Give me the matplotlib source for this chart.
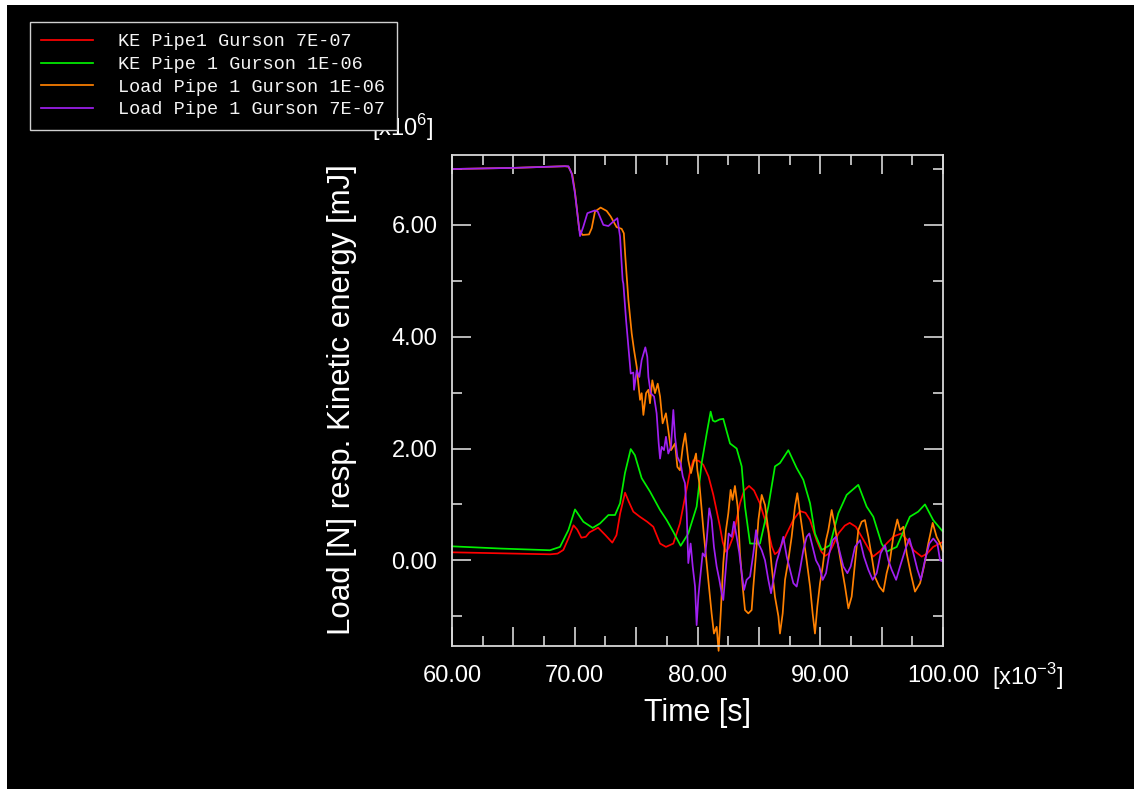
import matplotlib
matplotlib.use("Agg")
import matplotlib.pyplot as plt
from matplotlib.ticker import MultipleLocator, FuncFormatter
from matplotlib.patches import Rectangle
from matplotlib.font_manager import FontProperties

# ---------------- data (time in ms, values in 1e6) ----------------
red_t = [60, 64, 68.0, 68.6, 69.07, 69.5, 69.9, 70.2, 70.54, 70.9, 71.2, 71.9, 72.5, 73.06, 73.4, 73.7,
         74.1, 74.4, 74.77, 75.3, 75.9, 76.4, 76.95, 77.43, 78.03, 78.57, 79.1, 79.4, 79.66, 80.1, 80.47,
         80.9, 81.29, 81.83, 82.05, 82.3, 82.55, 82.9, 83.46, 83.8, 84.2, 84.6, 85.08, 85.76, 86.05, 86.3,
         86.55, 86.8, 87.27, 87.8, 88.35, 88.8, 89.17, 89.7, 90.1, 90.4, 90.7, 91.0, 91.48, 92.0, 92.4,
         92.9, 93.38, 94.3, 94.9, 95.4, 96.0, 96.6, 97.1, 97.6, 98.26, 98.7, 99.2, 100.0]
red_v = [0.143, 0.125, 0.107, 0.12, 0.185, 0.40, 0.626, 0.55, 0.405, 0.42, 0.50, 0.584, 0.45, 0.316, 0.45, 0.84,
         1.21, 1.05, 0.87, 0.78, 0.69, 0.60, 0.30, 0.24, 0.30, 0.66, 1.26, 1.60, 1.79, 1.78, 1.71,
         1.50, 1.17, 0.60, 0.33, 0.155, 0.22, 0.42, 1.02, 1.25, 1.33, 1.25, 1.02, 0.54, 0.25, 0.11,
         0.15, 0.25, 0.48, 0.72, 0.88, 0.85, 0.72, 0.36, 0.15, 0.08, 0.12, 0.25, 0.48, 0.62, 0.67,
         0.60, 0.42, 0.066, 0.17, 0.30, 0.43, 0.48, 0.36, 0.18, 0.066, 0.12, 0.24, 0.33]

green_t = [60, 64, 67.98, 68.8, 69.48, 70.02, 70.7, 71.46, 72.06, 72.74, 73.28, 73.69, 74.09, 74.56,
           74.9, 75.45, 76.13, 76.95, 77.49, 78.03, 78.63, 79.25, 79.93, 80.34, 80.75, 81.07, 81.25,
           81.43, 81.8, 82.1, 82.65, 83.19, 83.6, 83.87, 84.28, 85.09, 85.77, 86.31, 86.72, 87.4,
           88.08, 88.62, 89.17, 89.57, 90.12, 90.79, 91.47, 92.15, 93.1, 93.78, 94.32, 95.0, 95.41,
           96.23, 97.3, 97.98, 98.53, 99.2, 100.0]
green_v = [0.25, 0.21, 0.18, 0.24, 0.54, 0.91, 0.69, 0.58, 0.66, 0.81, 0.81, 1.02, 1.56, 1.99,
           1.88, 1.47, 1.23, 0.90, 0.72, 0.51, 0.26, 0.48, 0.96, 1.74, 2.27, 2.66, 2.50,
           2.48, 2.52, 2.53, 2.09, 2.00, 1.68, 0.96, 0.30, 0.30, 0.96, 1.68, 1.74, 1.97,
           1.65, 1.44, 1.02, 0.48, 0.185, 0.27, 0.84, 1.17, 1.35, 0.96, 0.78, 0.30, 0.155,
           0.24, 0.78, 0.87, 1.00, 0.72, 0.51]

orange_t = [60.0, 65.0, 69.2, 69.5, 69.8, 70.0, 70.37, 70.64, 71.16, 71.38, 71.65, 72.11, 72.6, 72.93,
            73.41, 73.82, 74.0, 74.12, 74.37, 74.64, 74.83, 75.05, 75.18, 75.32, 75.45, 75.59, 75.81,
            76.0, 76.13, 76.32, 76.54, 76.76, 76.95, 77.16, 77.43, 77.62, 77.84, 78.17, 78.36, 78.57,
            78.8, 79.0, 79.25, 79.47, 79.66, 79.88, 79.99, 80.15, 80.27, 80.5, 80.88, 81.15, 81.34,
            81.56, 81.72, 81.89, 82.1, 82.32, 82.51, 82.7, 82.86, 83.05, 83.27, 83.46, 83.68, 83.87,
            84.14, 84.41, 84.55, 84.77, 84.96, 85.23, 85.5, 85.77, 86.04, 86.31, 86.59, 86.72, 86.94,
            87.13, 87.4, 87.67, 87.94, 88.13, 88.35, 88.62, 88.89, 89.17, 89.38, 89.57, 89.76, 89.98,
            90.2, 90.47, 90.66, 90.93, 91.2, 91.47, 91.74, 92.02, 92.29, 92.56, 92.83, 93.1, 93.37,
            93.64, 93.92, 94.19, 94.46, 94.81, 95.14, 95.41, 95.68, 95.95, 96.28, 96.5, 96.77, 97.04,
            97.37, 97.72, 98.13, 98.45, 98.8, 99.16, 99.48, 99.76, 100.0]
orange_v = [7.00, 7.02, 7.05, 7.04, 6.90, 6.62, 5.91, 5.82, 5.83, 5.94, 6.24, 6.31, 6.25, 6.15,
            5.96, 5.93, 5.85, 5.43, 4.66, 4.06, 3.76, 3.46, 3.16, 2.87, 2.99, 2.60, 2.99,
            3.05, 2.81, 3.22, 2.99, 3.16, 2.93, 2.45, 2.63, 2.33, 1.97, 2.09, 1.67, 1.61,
            2.03, 2.27, 1.79, 1.56, 1.73, 1.91, 1.61, 1.38, 1.08, 0.50, -0.35, -0.95, -1.31,
            -1.19, -1.62, -0.95, -0.05, 0.54, 0.84, 1.26, 1.08, 1.33, 0.96, 0.125, -0.47, -0.89,
            -0.95, -0.89, -0.47, 0.125, 0.72, 1.17, 0.99, 0.54, -0.11, -0.65, -1.0, -1.31, -0.95,
            -0.35, 0.0, 0.42, 0.96, 1.2, 0.84, 0.42, 0.0, -0.47, -0.95, -1.31, -0.83, -0.41,
            -0.11, 0.36, 0.54, 0.9, 0.6, 0.24, -0.11, -0.47, -0.86, -0.65, -0.05, 0.54, 0.69,
            0.72, 0.42, 0.07, -0.30, -0.47, -0.56, -0.23, 0.0, 0.42, 0.73, 0.54, 0.60, 0.125,
            -0.23, -0.56, -0.41, -0.11, 0.30, 0.67, 0.42, 0.30, 0.155]

purple_t = [60.0, 65.0, 69.2, 69.48, 69.75, 70.02, 70.43, 70.7, 71.03, 71.65, 71.87, 72.33, 72.74,
            73.14, 73.47, 73.69, 73.9, 73.96, 74.18, 74.37, 74.56, 74.77, 74.83, 75.05, 75.26, 75.45,
            75.75, 75.91, 76.0, 76.19, 76.46, 76.67, 76.84, 76.95, 77.08, 77.27, 77.43, 77.62, 77.84,
            78.03, 78.17, 78.36, 78.63, 78.8, 78.98, 79.06, 79.12, 79.25, 79.44, 79.61, 79.8, 79.93,
            80.07, 80.2, 80.42, 80.61, 80.75, 80.96, 81.15, 81.34, 81.56, 81.78, 81.97, 82.1, 82.32,
            82.54, 82.78, 82.97, 83.19, 83.41, 83.6, 83.79, 84.0, 84.28, 84.55, 84.77, 84.96, 85.23,
            85.5, 85.77, 85.99, 86.18, 86.45, 86.72, 86.99, 87.27, 87.54, 87.81, 88.08, 88.35, 88.62,
            88.89, 89.11, 89.38, 89.65, 89.92, 90.2, 90.47, 90.74, 91.01, 91.28, 91.55, 91.88, 92.21,
            92.48, 92.83, 93.24, 93.56, 93.92, 94.27, 94.6, 94.92, 95.28, 95.55, 95.82, 96.18, 96.5,
            96.91, 97.26, 97.59, 97.92, 98.19, 98.53, 98.89, 99.21, 99.54, 99.76, 100.0]
purple_v = [7.00, 7.02, 7.05, 7.05, 6.92, 6.56, 5.80, 5.97, 6.21, 6.26, 6.24, 6.00, 5.98,
            6.06, 6.12, 5.79, 5.01, 4.95, 4.30, 3.82, 3.34, 3.36, 3.05, 3.40, 3.28, 3.58,
            3.81, 3.64, 3.28, 2.99, 2.93, 2.63, 2.09, 1.82, 2.03, 1.97, 2.21, 1.91, 2.03,
            2.69, 2.21, 1.85, 1.73, 1.50, 1.38, 1.08, 0.84, -0.05, 0.30, -0.11, -0.47, -1.16,
            -0.65, -0.35, 0.125, 0.066, 0.36, 0.93, 0.72, 0.24, -0.11, -0.35, -0.59, -0.71, -0.11,
            0.48, 0.42, 0.69, 0.42, 0.125, -0.23, -0.53, -0.35, -0.29, 0.125, 0.54, 0.30, 0.18,
            0.0, -0.35, -0.59, -0.35, -0.02, 0.18, 0.42, 0.066, -0.17, -0.41, -0.47, -0.17, 0.18,
            0.42, 0.48, 0.24, 0.0, -0.11, -0.35, -0.23, 0.125, 0.36, 0.42, 0.18, -0.11, -0.23,
            -0.11, 0.24, 0.36, 0.066, -0.17, -0.35, -0.23, 0.125, 0.27, 0.0, -0.17, -0.35, -0.11,
            0.18, 0.39, 0.125, -0.17, -0.35, 0.0, 0.30, 0.39, 0.30, 0.0, -0.02]

labels = ["KE Pipe1 Gurson 7E-07", "KE Pipe 1 Gurson 1E-06",
          "Load Pipe 1 Gurson 1E-06", "Load Pipe 1 Gurson 7E-07"]
colors = ["#ff0000", "#00f000", "#ff8000", "#a020f0"]

x_label = "Time [s]"
y_label = "Load [N] resp. Kinetic energy [mJ]"

# ---------------- figure ----------------
W, H = 1134, 789
fig = plt.figure(figsize=(W / 100, H / 100), dpi=100)
fig.patch.set_facecolor("white")
fig.patches.append(Rectangle((7 / W, 0), 1 - 7 / W, 1 - 5 / H, transform=fig.transFigure,
                             facecolor="black", edgecolor="none", zorder=-10))

ax = fig.add_axes([452 / W, 1 - 646 / H, (943 - 452) / W, (646 - 154.7) / H])
ax.set_facecolor("black")

series = [(red_t, red_v), (green_t, green_v), (orange_t, orange_v), (purple_t, purple_v)]
handles = []
for (t, v), c, lab in zip(series, colors, labels):
    ln, = ax.plot(t, v, color=c, lw=1.25, label=lab, clip_on=False)
    handles.append(ln)

ax.set_xlim(60, 100)
ax.set_ylim(-1.533, 7.256)

fg = "white"
for sp in ax.spines.values():
    sp.set_color("#d8d8d8")
    sp.set_linewidth(1.3)

ax.xaxis.set_major_locator(MultipleLocator(5))
ax.xaxis.set_minor_locator(MultipleLocator(2.5))
ax.xaxis.set_major_formatter(FuncFormatter(
    lambda v, p: f"{v:.2f}" if abs(v / 10 - round(v / 10)) < 1e-6 else ""))
ax.yaxis.set_major_locator(MultipleLocator(2))
ax.yaxis.set_minor_locator(MultipleLocator(1))
ax.yaxis.set_major_formatter(FuncFormatter(lambda v, p: f"{v:.2f}"))

ax.tick_params(which="both", direction="in", top=True, right=True, color="#d8d8d8",
               width=1.2, labelcolor=fg)
ax.tick_params(which="major", length=13.5)
ax.tick_params(which="minor", length=7)
ax.tick_params(axis="x", which="major", pad=14)
ax.tick_params(axis="y", which="major", pad=10.5)
for lab in ax.get_xticklabels() + ax.get_yticklabels():
    lab.set_fontfamily("Liberation Sans")
    lab.set_fontsize(17)

plt.rcParams["mathtext.fontset"] = "custom"
plt.rcParams["mathtext.rm"] = "Liberation Sans"

fig.text(697 / W, 1 - 713 / H, x_label, ha="center", va="center", color=fg,
         fontfamily="Liberation Sans", fontsize=22)
fig.text(342 / W, 1 - 400 / H, y_label, ha="center", va="center", rotation=90, color=fg,
         fontfamily="Liberation Sans", fontsize=22.5)

fig.text(372 / W, 1 - 136 / H, r"[x10$^{\mathregular{6}}$]", ha="left", va="baseline", color=fg,
         fontfamily="Liberation Sans", fontsize=17)
fig.text(992 / W, 1 - 685 / H, r"[x10$^{\mathregular{-3}}$]", ha="left", va="baseline", color=fg,
         fontfamily="Liberation Sans", fontsize=17)

leg = fig.legend(handles=handles, labels=labels, loc="upper left",
                 bbox_to_anchor=(30 / W, 1 - 22 / H), bbox_transform=fig.transFigure,
                 borderaxespad=0, prop=FontProperties(family="Liberation Mono", size=13.3),
                 fancybox=False, frameon=True, facecolor="black", edgecolor="#d0d0d0",
                 labelcolor="#f4f4f4", handlelength=2.8, handletextpad=1.35,
                 labelspacing=0.3, borderpad=0.62)
leg.get_frame().set_linewidth(1.0)
leg.get_frame().set_alpha(None)

fig.savefig("out.png", dpi=100, facecolor=fig.get_facecolor())
